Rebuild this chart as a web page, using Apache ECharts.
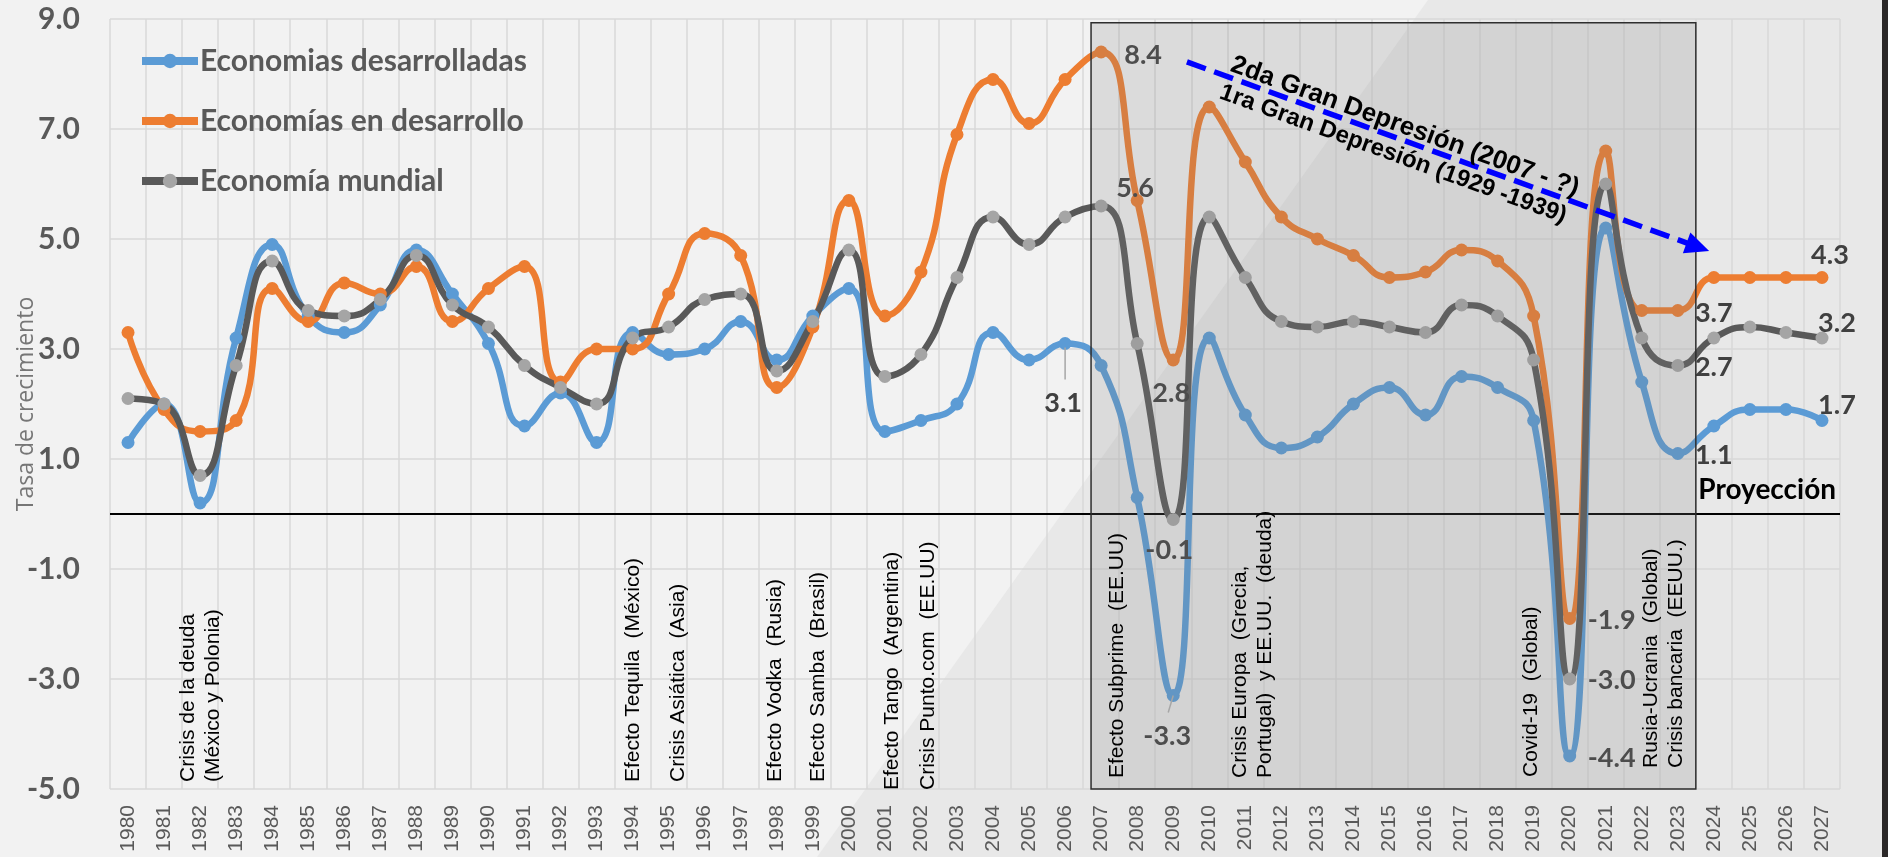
<!DOCTYPE html>
<html>
<head>
<meta charset="utf-8">
<script src="https://cdn.jsdelivr.net/npm/echarts@6/dist/echarts.min.js"></script>
<style>
  html, body { margin: 0; padding: 0; background: #f2f2f2; }
  #chart { width: 1888px; height: 857px; }
</style>
</head>
<body>
<div id="chart"></div>
<script>
// años (eje x)
const years = ['1980','1981','1982','1983','1984','1985','1986','1987','1988','1989',
  '1990','1991','1992','1993','1994','1995','1996','1997','1998','1999',
  '2000','2001','2002','2003','2004','2005','2006','2007','2008','2009',
  '2010','2011','2012','2013','2014','2015','2016','2017','2018','2019',
  '2020','2021','2022','2023','2024','2025','2026','2027'];

// tasa de crecimiento (%)
const desarrolladas = [1.3, 2.0, 0.2, 3.2, 4.9, 3.6, 3.3, 3.8, 4.8, 4.0,
  3.1, 1.6, 2.2, 1.3, 3.3, 2.9, 3.0, 3.5, 2.8, 3.6,
  4.1, 1.5, 1.7, 2.0, 3.3, 2.8, 3.1, 2.7, 0.3, -3.3,
  3.2, 1.8, 1.2, 1.4, 2.0, 2.3, 1.8, 2.5, 2.3, 1.7,
  -4.4, 5.2, 2.4, 1.1, 1.6, 1.9, 1.9, 1.7];
const enDesarrollo = [3.3, 1.9, 1.5, 1.7, 4.1, 3.5, 4.2, 4.0, 4.5, 3.5,
  4.1, 4.5, 2.4, 3.0, 3.0, 4.0, 5.1, 4.7, 2.3, 3.4,
  5.7, 3.6, 4.4, 6.9, 7.9, 7.1, 7.9, 8.4, 5.7, 2.8,
  7.4, 6.4, 5.4, 5.0, 4.7, 4.3, 4.4, 4.8, 4.6, 3.6,
  -1.9, 6.6, 3.7, 3.7, 4.3, 4.3, 4.3, 4.3];
const mundial = [2.1, 2.0, 0.7, 2.7, 4.6, 3.7, 3.6, 3.9, 4.7, 3.8,
  3.4, 2.7, 2.3, 2.0, 3.2, 3.4, 3.9, 4.0, 2.6, 3.5,
  4.8, 2.5, 2.9, 4.3, 5.4, 4.9, 5.4, 5.6, 3.1, -0.1,
  5.4, 4.3, 3.5, 3.4, 3.5, 3.4, 3.3, 3.8, 3.6, 2.8,
  -3.0, 6.0, 3.2, 2.7, 3.2, 3.4, 3.3, 3.2];

// marcas del eje y
const yTicks = [-5, -3, -1, 1, 3, 5, 7, 9];

// crisis señaladas
const crisisNotes = ['Crisis de la deuda\n(México y Polonia)', 'Efecto Tequila  (México)',
  'Crisis Asiática  (Asia)', 'Efecto Vodka  (Rusia)', 'Efecto Samba  (Brasil)',
  'Efecto Tango  (Argentina)', 'Crisis Punto.com  (EE.UU)', 'Efecto Subprime  (EE.UU)',
  'Crisis Europa  (Grecia,\nPortugal)  y EE.UU.  (deuda)', 'Covid-19  (Global)',
  'Rusia-Ucrania  (Global)\nCrisis bancaria  (EEUU.)'];

// ---- layout (not data) ----
// where each crisis note sits: [year on hidden axis, bottom px]
const notePos = [[1982.03, 782], [1994.01, 782], [1995.26, 782], [1997.95, 782], [1999.15, 782],
  [2001.2, 790], [2002.2, 790], [2007.44, 778], [2011.2, 778], [2018.93, 777], [2022.6, 768]];

// value labels: [series index, year, dx, dy]
const pointLabels = [
  [1, '2007', 42, 3], [2, '2007', 34, -18], [0, '2006', -2, 60],
  [1, '2009', -2, 33], [2, '2009', -4, 31], [0, '2009', -6, 41],
  [1, '2020', 42, 2], [2, '2020', 42, 1], [0, '2020', 42, 2],
  [1, '2023', 36, 3], [2, '2023', 36, 2], [0, '2023', 36, 2],
  [1, '2027', 8, -22], [2, '2027', 15, -15], [0, '2027', 15, -15]
];

const seriesDefs = [
  { name: 'Economias desarrolladas', values: desarrolladas, line: '#5b9bd5', dot: '#5b9bd5' },
  { name: 'Economías en desarrollo', values: enDesarrollo, line: '#ed7d31', dot: '#ed7d31' },
  { name: 'Economía mundial', values: mundial, line: '#595959', dot: '#a5a5a5' }
];

const labelFont = { fontFamily: 'Lato', fontWeight: 'bold', fontSize: 27, color: '#404040' };

const chart = echarts.init(document.getElementById('chart'), null, { renderer: 'canvas' });

const lineSeries = seriesDefs.map((s, k) => ({
  name: s.name,
  type: 'line',
  smooth: 0.5,
  symbol: 'circle',
  symbolSize: 13,
  z: 2,
  lineStyle: { width: 6.5, color: s.line },
  itemStyle: { color: s.dot },
  emphasis: { disabled: true },
  data: s.values.map((v, i) => {
    const lab = pointLabels.find(l => l[0] === k && l[1] === years[i]);
    if (!lab) return v;
    return {
      value: v,
      label: Object.assign({ show: true, position: 'inside', offset: [lab[2], lab[3]],
        formatter: p => p.value.toFixed(1) }, labelFont)
    };
  })
}));

// zero line
lineSeries[0].markLine = {
  z: 1,
  silent: true,
  symbol: 'none',
  label: { show: false },
  lineStyle: { color: '#000', width: 1.8, type: 'solid' },
  data: [{ yAxis: 0 }]
};

chart.setOption({
  animation: false,
  backgroundColor: '#f2f2f2',
  grid: { left: 110, right: 48, top: 19, bottom: 68, outerBoundsMode: 'none' },
  legend: {
    orient: 'vertical',
    left: 133,
    top: 41,
    itemWidth: 56,
    itemHeight: 18,
    itemGap: 30,
    lineStyle: { width: 8 },
    textStyle: { fontFamily: 'Lato', fontWeight: 'bold', fontSize: 30, color: '#595959', padding: [0, 0, 0, -3] },
    data: seriesDefs.map(s => s.name)
  },
  xAxis: [{
    type: 'category',
    data: years,
    boundaryGap: true,
    axisTick: { show: false },
    axisLine: { show: true, lineStyle: { color: '#d9d9d9', width: 1.5 } },
    axisLabel: { rotate: 90, margin: 16, interval: 0, fontFamily: 'Liberation Sans',
      fontSize: 21, color: '#595959' },
    splitLine: { show: true, interval: 0, lineStyle: { color: '#d9d9d9', width: 1.5 } }
  }, {
    // hidden helper axis for annotations
    type: 'value', min: 1979.5, max: 2027.5, show: false
  }],
  yAxis: {
    type: 'value',
    min: yTicks[0],
    max: yTicks[yTicks.length - 1],
    interval: yTicks[1] - yTicks[0],
    name: 'Tasa de crecimiento',
    nameLocation: 'middle',
    nameGap: 72,
    nameMoveOverlap: false,
    nameTextStyle: { fontFamily: 'Open Sans', fontSize: 23, color: '#767676' },
    axisLine: { show: false },
    axisTick: { show: false },
    axisLabel: { margin: 30, fontFamily: 'Lato', fontWeight: 'bold', fontSize: 30,
      color: '#595959', formatter: v => v.toFixed(1) },
    splitLine: { lineStyle: { color: '#d9d9d9', width: 1.5 } }
  },
  series: lineSeries.concat([{
    // recuadro gris 2007-2023
    type: 'custom',
    xAxisIndex: 1,
    z: 5,
    silent: true,
    data: [[2006.72, 2023.5, 8.93, -5]],
    renderItem: (params, api) => {
      const a = api.coord([api.value(0), api.value(2)]);
      const b = api.coord([api.value(1), api.value(3)]);
      return {
        type: 'rect',
        shape: { x: a[0], y: a[1], width: b[0] - a[0], height: b[1] - a[1] },
        style: { fill: 'rgba(128,128,128,0.2)', stroke: '#2e2e2e', lineWidth: 1.5 }
      };
    }
  }])
});

// ---- annotations placed through the axes ----
const px = (x, y) => chart.convertToPixel({ xAxisIndex: 1, yAxisIndex: 0 }, [x, y]);
const graphics = [];

// background of the slide
graphics.push({ type: 'polygon', z: -1, silent: true,
  shape: { points: [[1428, 0], [1888, 0], [1888, 857], [817, 857]] },
  style: { fill: '#e8e8e8' } });
graphics.push({ type: 'rect', z: 20, silent: true,
  shape: { x: 1882, y: 0, width: 6, height: 857 }, style: { fill: '#2b2828' } });

// crisis notes
crisisNotes.forEach((t, i) => {
  const x = px(notePos[i][0], 0)[0];
  graphics.push({ type: 'text', z: 10, silent: true, x: x, y: notePos[i][1], rotation: Math.PI / 2,
    style: { text: t, fontFamily: 'Liberation Sans', fontSize: 21, lineHeight: 25,
      fill: '#000', align: 'left', verticalAlign: 'middle' } });
});

// leader lines for 3.1 and -3.3
const p31 = px(2006, 3.1);
graphics.push({ type: 'line', z: 10, silent: true,
  shape: { x1: p31[0], y1: p31[1] + 4, x2: p31[0], y2: p31[1] + 36 },
  style: { stroke: '#a6a6a6', lineWidth: 1.5 } });
const p33 = px(2009, -3.3);
graphics.push({ type: 'line', z: 10, silent: true,
  shape: { x1: p33[0], y1: p33[1], x2: p33[0] - 5, y2: p33[1] + 17 },
  style: { stroke: '#a6a6a6', lineWidth: 1.5 } });

// Proyección
const pp = px(2025.48, 0.44);
graphics.push({ type: 'text', z: 10, silent: true, x: pp[0], y: pp[1],
  style: { text: 'Proyección', fontFamily: 'Lato', fontWeight: 'bold', fontSize: 28,
    fill: '#000', align: 'center', verticalAlign: 'middle' } });

// dashed arrow + texts
const a0 = px(2009.38, 8.22);
const a1 = px(2023.87, 4.78);
const dx = a1[0] - a0[0], dy = a1[1] - a0[1];
const len = Math.sqrt(dx * dx + dy * dy);
const ux = dx / len, uy = dy / len;
const headL = 24, headW = 11;
const base = [a1[0] - ux * headL, a1[1] - uy * headL];
graphics.push({ type: 'polyline', z: 10, silent: true,
  shape: { points: [a0, [base[0] + ux * 2, base[1] + uy * 2]] },
  style: { stroke: '#0000ff', lineWidth: 5.5, lineDash: [20, 9], fill: null } });
graphics.push({ type: 'polygon', z: 10, silent: true,
  shape: { points: [a1, [base[0] - uy * headW, base[1] + ux * headW], [base[0] + uy * headW, base[1] - ux * headW]] },
  style: { fill: '#0000ff' } });
const ang = -Math.atan2(dy, dx);
const t1 = px(2015.43, 7.04);
const t2 = px(2015.1, 6.54);
graphics.push({ type: 'text', z: 11, silent: true, x: t1[0], y: t1[1], rotation: ang,
  style: { text: '2da Gran Depresión (2007 - ?)', fontFamily: 'Liberation Sans', fontWeight: 'bold',
    fontSize: 26, fill: '#000', align: 'center', verticalAlign: 'middle' } });
graphics.push({ type: 'text', z: 11, silent: true, x: t2[0], y: t2[1], rotation: ang,
  style: { text: '1ra Gran Depresión (1929 -1939)', fontFamily: 'Liberation Sans', fontWeight: 'bold',
    fontSize: 24, fill: '#000', align: 'center', verticalAlign: 'middle' } });

chart.setOption({ graphic: { elements: graphics } });
</script>
</body>
</html>
